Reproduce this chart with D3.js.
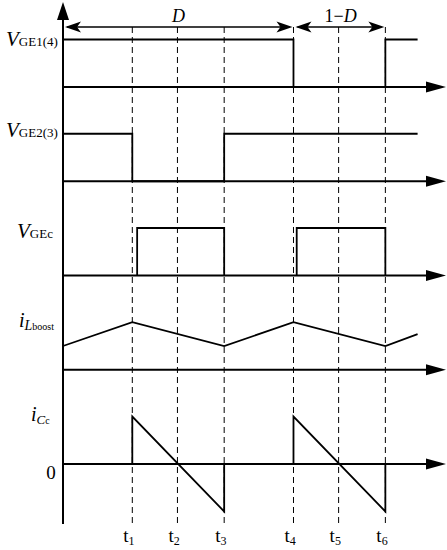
<!DOCTYPE html>
<html>
<head>
<meta charset="utf-8">
<script src="https://cdn.jsdelivr.net/npm/d3@7"></script>
<style>
  body { margin: 0; background: #fff; }
  svg { display: block; }
  text { font-family: "Liberation Serif", "Times New Roman", serif; fill: #000; }
</style>
</head>
<body>
<svg id="graph"></svg>
<script>
// switching instants (one period = 1)
const tTimes = [0.43, 0.71, 1.0, 1.43, 1.71, 2.0];
const tLabels = ['1', '2', '3', '4', '5', '6'];
const tEnd = 2.2;      // signals stop here
const tAxis = 2.37;    // axis arrow tip

// waveforms: [time, level]
const vge14 = [[0, 1], [1.43, 1], [1.43, 0], [2.0, 0], [2.0, 1], [2.2, 1]];
const vge23 = [[0, 1], [0.43, 1], [0.43, 0], [1.0, 0], [1.0, 1], [2.2, 1]];
const vgecPulses = [[0.46, 1.0], [1.45, 2.0]];
const iLboost = [[0, 0.5], [0.43, 1], [1.0, 0.5], [1.43, 1], [2.0, 0.5], [2.2, 0.75]];
const iCc = [
  [[0.43, 0], [0.43, 1], [1.0, -1], [1.0, 0]],
  [[1.43, 0], [1.43, 1], [2.0, -1], [2.0, 0]]
];

const width = 447;
const height = 550;

const graph = d3.select('#graph')
  .attr('width', width)
  .attr('height', height);

// scales
const x = d3.scaleLinear().domain([0, tAxis]).range([63, 445]);
const base = d3.scaleLinear().domain([0, 4]).range([87, 464]);   // baseline of each trace
const amp = 47.5;                                                   // px per unit level
const yOf = (i) => (v) => base(i) - v * amp;

// dashed guides
graph.selectAll('line.guide')
  .data(tTimes)
  .enter()
  .append('line')
  .attr('class', 'guide')
  .attr('x1', d => x(d)).attr('x2', d => x(d))
  .attr('y1', 27).attr('y2', 526)
  .attr('stroke', '#000')
  .attr('stroke-width', 1)
  .attr('stroke-dasharray', '6,4');

// horizontal axes with arrows
d3.range(5).forEach(i => {
  const y0 = base(i);
  graph.append('line')
    .attr('x1', x(0)).attr('x2', x(tAxis) - 12)
    .attr('y1', y0).attr('y2', y0)
    .attr('stroke', '#000').attr('stroke-width', 2);
  const tip = x(tAxis) + 1;
  graph.append('path')
    .attr('d', `M${tip},${y0} L${tip - 20},${y0 - 5.5} L${tip - 20},${y0 + 5.5} Z`)
    .attr('fill', '#000');
});

// vertical axis
graph.append('line')
  .attr('x1', x(0)).attr('x2', x(0))
  .attr('y1', 524).attr('y2', 14)
  .attr('stroke', '#000').attr('stroke-width', 2);
graph.append('path')
  .attr('d', `M${x(0)},2 L${x(0) - 6},20 L${x(0) + 6},20 Z`)
  .attr('fill', '#000');

// traces
const draw = (pts, i) => {
  const line = d3.line().x(d => x(d[0])).y(d => yOf(i)(d[1]));
  graph.append('path')
    .attr('d', line(pts))
    .attr('fill', 'none')
    .attr('stroke', '#000')
    .attr('stroke-width', 1.8);
};

draw(vge14, 0);
draw(vge23, 1);
vgecPulses.forEach(p => draw([[p[0], 0], [p[0], 1], [p[1], 1], [p[1], 0]], 2));
draw(iLboost, 3);
iCc.forEach(seg => draw(seg, 4));

// duty-cycle arrows
const arrowY = 27;
const head = (xt, dir) => {
  const b = xt - dir * 16, n = xt - dir * 12;
  return `M${xt},${arrowY} L${b},${arrowY - 5.5} L${n},${arrowY} L${b},${arrowY + 5.5} Z`;
};
const spans = [
  {from: 0, to: tTimes[3], label: 'D', at: tTimes[1]},
  {from: tTimes[3], to: tTimes[5], label: '1−D', at: tTimes[4]}
];
spans.forEach(s => {
  graph.append('line')
    .attr('x1', x(s.from) + 4).attr('x2', x(s.to) - 4)
    .attr('y1', arrowY).attr('y2', arrowY)
    .attr('stroke', '#000').attr('stroke-width', 1.5);
  graph.append('path').attr('d', head(x(s.from) + 2, -1)).attr('fill', '#000');
  graph.append('path').attr('d', head(x(s.to) - 1, 1)).attr('fill', '#000');
});
const dText = graph.append('text')
  .attr('x', x(spans[0].at) + 1).attr('y', 22)
  .attr('text-anchor', 'middle').style('font-size', '18px');
dText.append('tspan').style('font-style', 'italic').text('D');
const d2Text = graph.append('text')
  .attr('x', x(spans[1].at) + 2).attr('y', 22)
  .attr('text-anchor', 'middle').style('font-size', '18px');
d2Text.append('tspan').text('1−');
d2Text.append('tspan').style('font-style', 'italic').text('D');

// trace labels
const vLabel = (xp, yp, sub) => {
  const t = graph.append('text').attr('x', xp).attr('y', yp);
  t.append('tspan').style('font-style', 'italic').style('font-size', '21px').text('V');
  t.append('tspan').style('font-size', '13px').attr('dy', 0).text(sub);
};
vLabel(6, 46, 'GE1(4)');
vLabel(6, 137, 'GE2(3)');
vLabel(17, 238, 'GEc');

const iL = graph.append('text').attr('x', 19).attr('y', 327);
iL.append('tspan').style('font-style', 'italic').style('font-size', '20px').text('i');
iL.append('tspan').style('font-style', 'italic').style('font-size', '14px').attr('dy', 3).text('L');
iL.append('tspan').style('font-size', '10px').attr('dy', 0).text('boost');

const iC = graph.append('text').attr('x', 31).attr('y', 421);
iC.append('tspan').style('font-style', 'italic').style('font-size', '20px').text('i');
iC.append('tspan').style('font-style', 'italic').style('font-size', '13px').attr('dy', 3).text('C');
iC.append('tspan').style('font-size', '10px').attr('dy', 0).text('c');

graph.append('text')
  .attr('x', 51).attr('y', 479)
  .attr('text-anchor', 'middle')
  .style('font-size', '19px')
  .text('0');

// time labels
const tl = graph.selectAll('text.tlab')
  .data(tTimes)
  .enter()
  .append('text')
  .attr('class', 'tlab')
  .attr('x', d => x(d) - 9)
  .attr('y', 542);
tl.append('tspan').style('font-size', '19px').text('t');
tl.append('tspan').style('font-size', '12px').attr('dy', 3).text((d, i) => tLabels[i]);
</script>
</body>
</html>
